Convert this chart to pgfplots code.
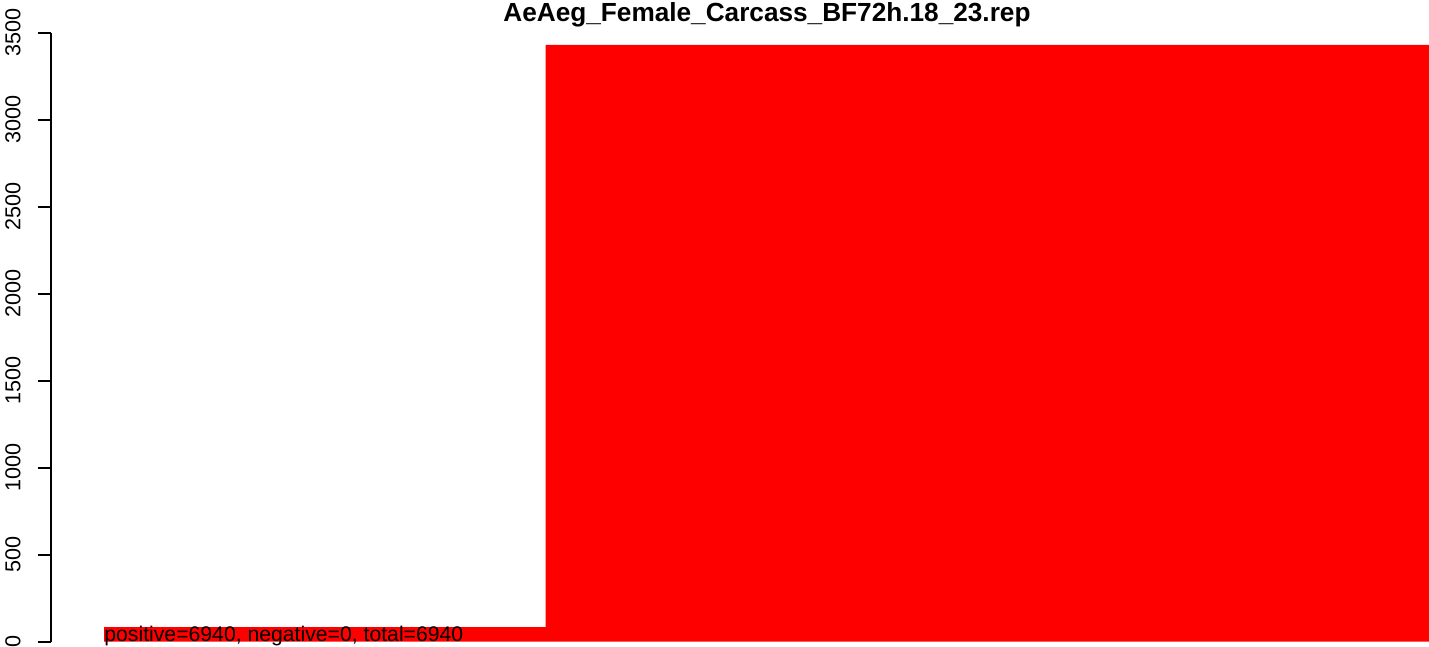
\documentclass[border=0pt]{standalone}
\usepackage{fontspec}
\setmainfont{Liberation Sans}
\usepackage{pgfplots}
\pgfplotsset{compat=1.18}
\begin{document}
\begin{tikzpicture}
\begin{axis}[
 name=ax,
 scale only axis,
 width=689.15bp, height=304.4bp,
 xmin=50.7, xmax=1429, ymin=0, ymax=3500,
 axis x line=none,
 axis y line*=left,
 axis line style={line width=1bp, black},
 ytick={0,500,1000,1500,2000,2500,3000,3500},
 major tick length=6.5bp,
 tick align=outside,
 tick style={line width=1bp, black},
 yticklabel shift={5bp},
 yticklabel style={rotate=90, anchor=south, font=\fontsize{10.8bp}{13bp}\selectfont},
 /pgf/number format/assume math mode=true,
 /pgf/number format/1000 sep={},
 clip=false,
]
\addplot[ybar interval, fill=red, draw=none] coordinates {(104,83) (545.7,3430) (1429,3430)};
\node[anchor=base west, inner sep=0pt, font=\fontsize{10.6bp}{13bp}\selectfont] at (axis cs:104,0) {positive=6940, negative=0, total=6940};
\node[anchor=base, inner sep=0pt, font=\fontsize{13.1bp}{15bp}\selectfont\bfseries] at (axis cs:767,3562) {AeAeg\_Female\_Carcass\_BF72h.18\_23.rep};
\end{axis}
\pgfresetboundingbox
\path ([shift={(-25.35bp,-2.75bp)}]ax.south west) rectangle ([shift={(0bp,16.35bp)}]ax.north east);
\end{tikzpicture}
\end{document}
